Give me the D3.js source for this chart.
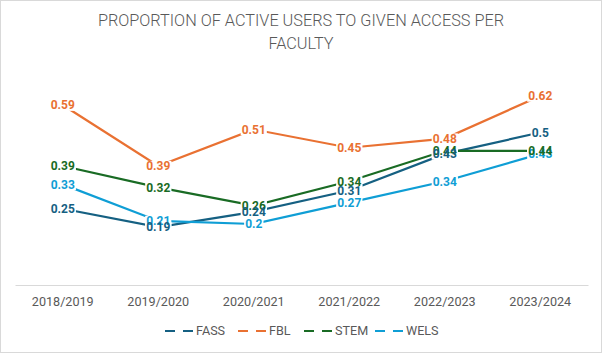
<!DOCTYPE html>
<html><head><meta charset="utf-8">
<script src="https://cdn.jsdelivr.net/npm/d3@7"></script>
<style>body{margin:0;background:#fff}svg{display:block}</style>
</head><body>
<svg id="c" width="602" height="353"></svg>
<script>
const categories = ["2018/2019","2019/2020","2020/2021","2021/2022","2022/2023","2023/2024"];
const seriesNames = ["FASS","FBL","STEM","WELS"];
const seriesColors = ["#156082","#E97132","#196B24","#0F9ED5"];
const fass = [0.25,0.19,0.24,0.31,0.43,0.5];
const fbl  = [0.59,0.39,0.51,0.45,0.48,0.62];
const stem = [0.39,0.32,0.26,0.34,0.44,0.44];
const wels = [0.33,0.21,0.2,0.27,0.34,0.43];
const titleLines = ["PROPORTION OF ACTIVE USERS TO GIVEN ACCESS PER","FACULTY"];

const series = [fass,fbl,stem,wels].map((v,i)=>({name:seriesNames[i],color:seriesColors[i],values:v}));

const svg = d3.select("#c");
svg.append("rect").attr("x",0.5).attr("y",0.5).attr("width",601).attr("height",352)
  .attr("fill","#fff").attr("stroke","#d9d9d9");

const font = "Roboto, 'Liberation Sans', sans-serif";
svg.append("g").selectAll("text").data(titleLines).join("text")
  .attr("x",301).attr("y",(d,i)=>26+i*23).attr("text-anchor","middle")
  .attr("font-family",font).attr("font-size",16.3).attr("font-weight",300).attr("fill","#595959")
  .text(d=>d);

const x = d3.scaleBand().domain(categories).range([15,588]);
const y = d3.scaleLinear().domain([0,0.7]).range([285,71.5]);

const xAxis = svg.append("g").attr("transform","translate(0,285)")
  .call(d3.axisBottom(x).tickSize(0).tickPadding(12));
xAxis.select(".domain").attr("stroke","#d9d9d9");
xAxis.selectAll("text").attr("font-family",font).attr("font-size",12.6).attr("fill","#595959");

const line = d3.line().x((d,i)=>x(categories[i])+x.bandwidth()/2).y(d=>y(d));
svg.append("g").selectAll("path").data(series).join("path")
  .attr("d",d=>line(d.values)).attr("fill","none").attr("stroke",d=>d.color).attr("stroke-width",2.2);

const labelOrder = [series[3],series[2],series[1],series[0]];
const bgG = svg.append("g");
const lg = svg.append("g");
labelOrder.forEach(s=>{
  lg.append("g").selectAll("text").data(s.values).join("text")
    .attr("x",(d,i)=>x(categories[i])+x.bandwidth()/2)
    .attr("y",d=>y(d)).attr("dy","0.36em").attr("text-anchor","middle")
    .attr("font-family",font).attr("font-size",12).attr("font-weight",700)
    .attr("fill",s.color)
    .text(d=>d);
});
lg.selectAll("text").each(function(){
  const b = this.getBBox();
  bgG.append("rect").attr("x",b.x-1).attr("y",b.y+1.5).attr("width",b.width+2).attr("height",b.height-3)
    .attr("fill","#fff");
});

const legendX = [165,238,304,375];
const leg = svg.append("g");
series.forEach((s,i)=>{
  const g = leg.append("g").attr("transform",`translate(${legendX[i]},331)`);
  g.append("line").attr("x1",0).attr("x2",29).attr("y1",0).attr("y2",0)
    .attr("stroke",s.color).attr("stroke-width",2.2).attr("stroke-dasharray","10,8");
  g.append("text").attr("x",31).attr("y",0).attr("dy","0.35em")
    .attr("font-family",font).attr("font-size",12.6).attr("fill","#595959").text(s.name);
});
</script>
</body></html>
